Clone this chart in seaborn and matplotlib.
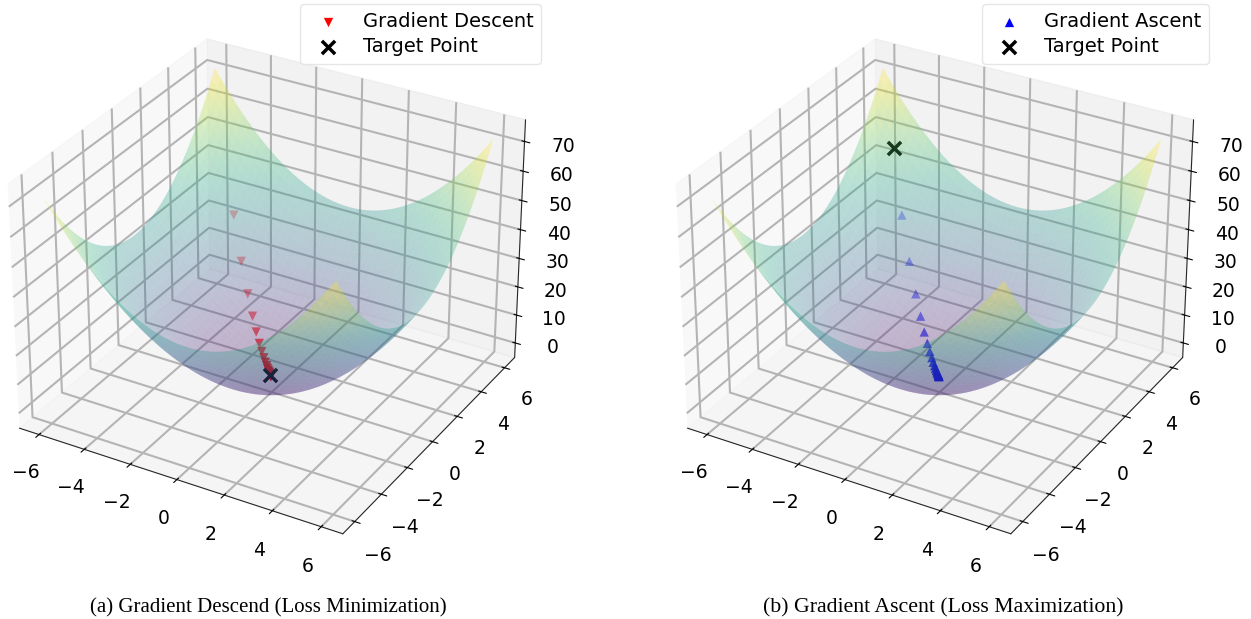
import numpy as np
import matplotlib
matplotlib.use('Agg')
import matplotlib.pyplot as plt
import seaborn as sns

# grid of the loss surface and height contributed by each coordinate
grid = [-6.0, -5.75, -5.5, -5.25, -5.0, -4.75, -4.5, -4.25, -4.0, -3.75, -3.5, -3.25, -3.0,
        -2.75, -2.5, -2.25, -2.0, -1.75, -1.5, -1.25, -1.0, -0.75, -0.5, -0.25, 0.0,
        0.25, 0.5, 0.75, 1.0, 1.25, 1.5, 1.75, 2.0, 2.25, 2.5, 2.75, 3.0,
        3.25, 3.5, 3.75, 4.0, 4.25, 4.5, 4.75, 5.0, 5.25, 5.5, 5.75, 6.0]
heights = [36.0, 33.06, 30.25, 27.56, 25.0, 22.56, 20.25, 18.06, 16.0, 14.06, 12.25, 10.56, 9.0,
           7.56, 6.25, 5.06, 4.0, 3.06, 2.25, 1.56, 1.0, 0.56, 0.25, 0.06, 0.0,
           0.06, 0.25, 0.56, 1.0, 1.56, 2.25, 3.06, 4.0, 5.06, 6.25, 7.56, 9.0,
           10.56, 12.25, 14.06, 16.0, 18.06, 20.25, 22.56, 25.0, 27.56, 30.25, 33.06, 36.0]

# path, from far away down to the minimum
path_x = [-4.00, -3.20, -2.54, -2.03, -1.63, -1.30, -1.04, -0.83, -0.67, -0.53,
          -0.43, -0.34, -0.27, -0.22, -0.17, -0.14, -0.11, -0.09, -0.07, -0.05]
path_y = [4.00, 3.20, 2.56, 2.05, 1.64, 1.31, 1.05, 0.84, 0.67, 0.54,
          0.43, 0.34, 0.27, 0.22, 0.18, 0.14, 0.11, 0.09, 0.07, 0.03]
path_z = [32.0, 20.5, 13.0, 8.3, 5.3, 3.4, 2.2, 1.4, 0.9, 0.57,
          0.37, 0.23, 0.15, 0.1, 0.06, 0.04, 0.02, 0.01, 0.01, 0.0]

low_point = [-0.08, 0.0, 0.6]
high_point = [-4.96, 5.02, 49.8]

axis_ticks = [-6, -4, -2, 0, 2, 4, 6]
z_ticks = [0, 10, 20, 30, 40, 50, 60, 70]

sns.set_style('white', {'grid.color': '#b4b4b4', 'text.color': 'black',
                        'xtick.color': 'black', 'ytick.color': 'black'})
plt.rcParams['font.family'] = ['DejaVu Sans']
plt.rcParams['grid.linewidth'] = 1.5
plt.rcParams['legend.edgecolor'] = '0.88'

fig = plt.figure(figsize=(12.51, 6.19), dpi=100)
X, Y = np.meshgrid(grid, grid)
Z = np.add.outer(heights, heights)
surface_cmap = sns.color_palette('viridis', as_cmap=True)


def draw_panel(rect, marker, color, path_label, target, caption, caption_x, caption_size, legend_right):
    ax = fig.add_axes(rect, projection='3d')
    ax.plot_surface(X, Y, Z, cmap=surface_cmap, alpha=0.3, linewidth=0,
                    edgecolor='none', antialiased=True)
    ax.scatter(path_x, path_y, path_z, marker=marker, color=color, s=45, linewidths=0,
               label=path_label)
    ax.scatter(*target, marker='x', color='black', s=90, linewidths=2.5, label='Target Point')
    ax.set_xticks(axis_ticks)
    ax.set_yticks(axis_ticks)
    ax.set_zticks(z_ticks)
    ax.tick_params(axis='x', labelsize=13.5, pad=7)
    ax.tick_params(axis='y', labelsize=13.5, pad=7)
    ax.tick_params(axis='z', labelsize=13.5, pad=9)
    ax.legend(loc='upper right', fontsize=14, bbox_to_anchor=(legend_right, 0.993),
              bbox_transform=fig.transFigure, borderaxespad=0, labelspacing=0.3)
    fig.text(caption_x, 0.010, caption, family='Liberation Serif', fontsize=caption_size, ha='center')
    return ax


draw_panel([-0.0192, 0.0525, 0.4602, 0.983], 'v', 'red', 'Gradient Descent', low_point,
           '(a) Gradient Descend (Loss Minimization)', 0.2146, 15, 0.4325)
draw_panel([0.5148, 0.0525, 0.4602, 0.983], '^', 'blue', 'Gradient Ascent', high_point,
           '(b) Gradient Ascent (Loss Maximization)', 0.7538, 15.7, 0.9665)

plt.savefig('out.png', dpi=100)
